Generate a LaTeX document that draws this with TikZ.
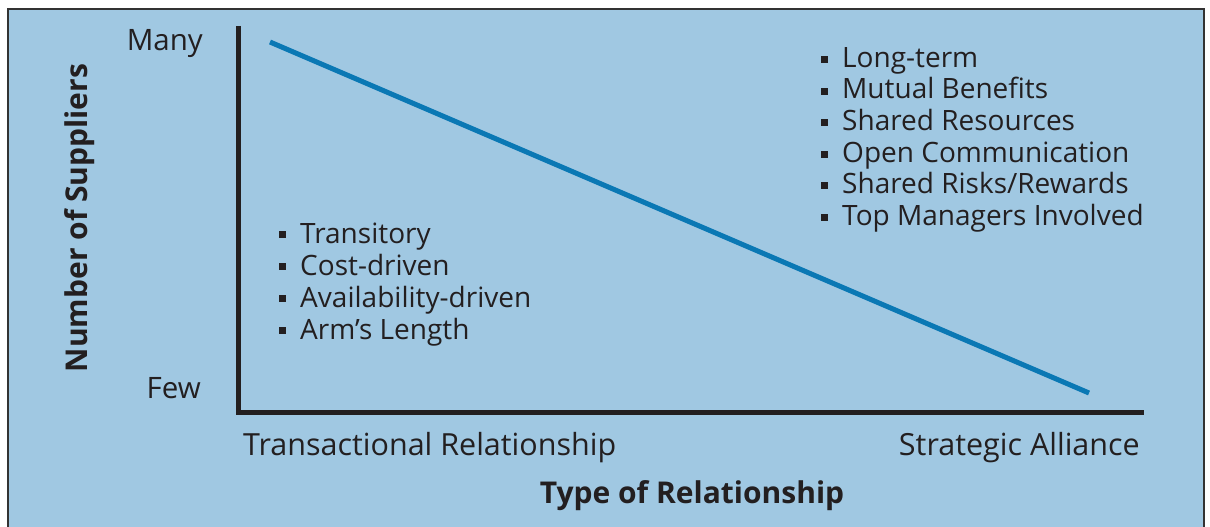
\documentclass[tikz,border=0pt]{standalone}
\usepackage{fontspec}
\setmainfont{Open Sans}
\definecolor{bgblue}{HTML}{A0C8E2}
\definecolor{lineblue}{HTML}{0A78B4}
\definecolor{frame}{HTML}{333333}
\definecolor{ink}{HTML}{231F20}
\begin{document}
\begin{tikzpicture}[x=1pt,y=-1pt,
  lbl/.style={font=\fontsize{28}{32}\selectfont, text=ink, inner sep=0pt},
  axl/.style={font=\fontsize{30.5}{34}\selectfont, text=ink, inner sep=0pt},
  ttl/.style={font=\fontsize{30}{34}\selectfont\bfseries, text=ink, inner sep=0pt},
  bul/.style={fill=ink, minimum size=7pt, inner sep=0pt},
  axis/.style={draw=ink, line width=5pt}]
\useasboundingbox (0,0) rectangle (1210,527);
\fill[white] (0,0) rectangle (1210,527);
\draw[frame, fill=bgblue, line width=2.5pt] (8,9) rectangle (1204,560);
% axes
\coordinate (top) at (238,26);
\coordinate (origin) at (238,412);
\coordinate (right) at (1144,412);
\draw[axis, line cap=butt] (top) -- (origin) -- (right);
% trend line
\coordinate (ls) at (270,42);
\coordinate (le) at (1089,393);
\draw[lineblue, line width=5pt] (ls) -- (le);
% axis labels
\node[axl, font=\fontsize{29.5}{34}\selectfont, anchor=base east] (many) at (203,51) {Many};
\node[axl, font=\fontsize{29.5}{34}\selectfont, anchor=base east] (few) at (201,398) {Few};
\node[ttl, rotate=90, anchor=base] (ylab) at (87,218) {Number of Suppliers};
\node[axl, anchor=base west] (trans) at (243,455) {Transactional Relationship};
\node[axl, anchor=base east] (strat) at (1140,455) {Strategic Alliance};
\node[ttl, anchor=base] (xlab) at (692,503) {Type of Relationship};
% left list
\foreach \t [count=\i] in {Transitory,Cost-driven,Availability-driven,Arm’s Length}{
  \node[bul] (lb\i) at (282,{202.5+32*\i}) {};
  \node[lbl, anchor=base west] (lt\i) at (300,{211+32*\i}) {\t};
}
% right list
\foreach \t [count=\i] in {Long-term,Mutual Benefits,Shared Resources,Open Communication,Shared Risks/Rewards,Top Managers Involved}{
  \node[bul] (rb\i) at (824,{28+31.5*\i}) {};
  \node[lbl, anchor=base west] (rt\i) at (842,{36+31.5*\i}) {\t};
}
\end{tikzpicture}
\end{document}
